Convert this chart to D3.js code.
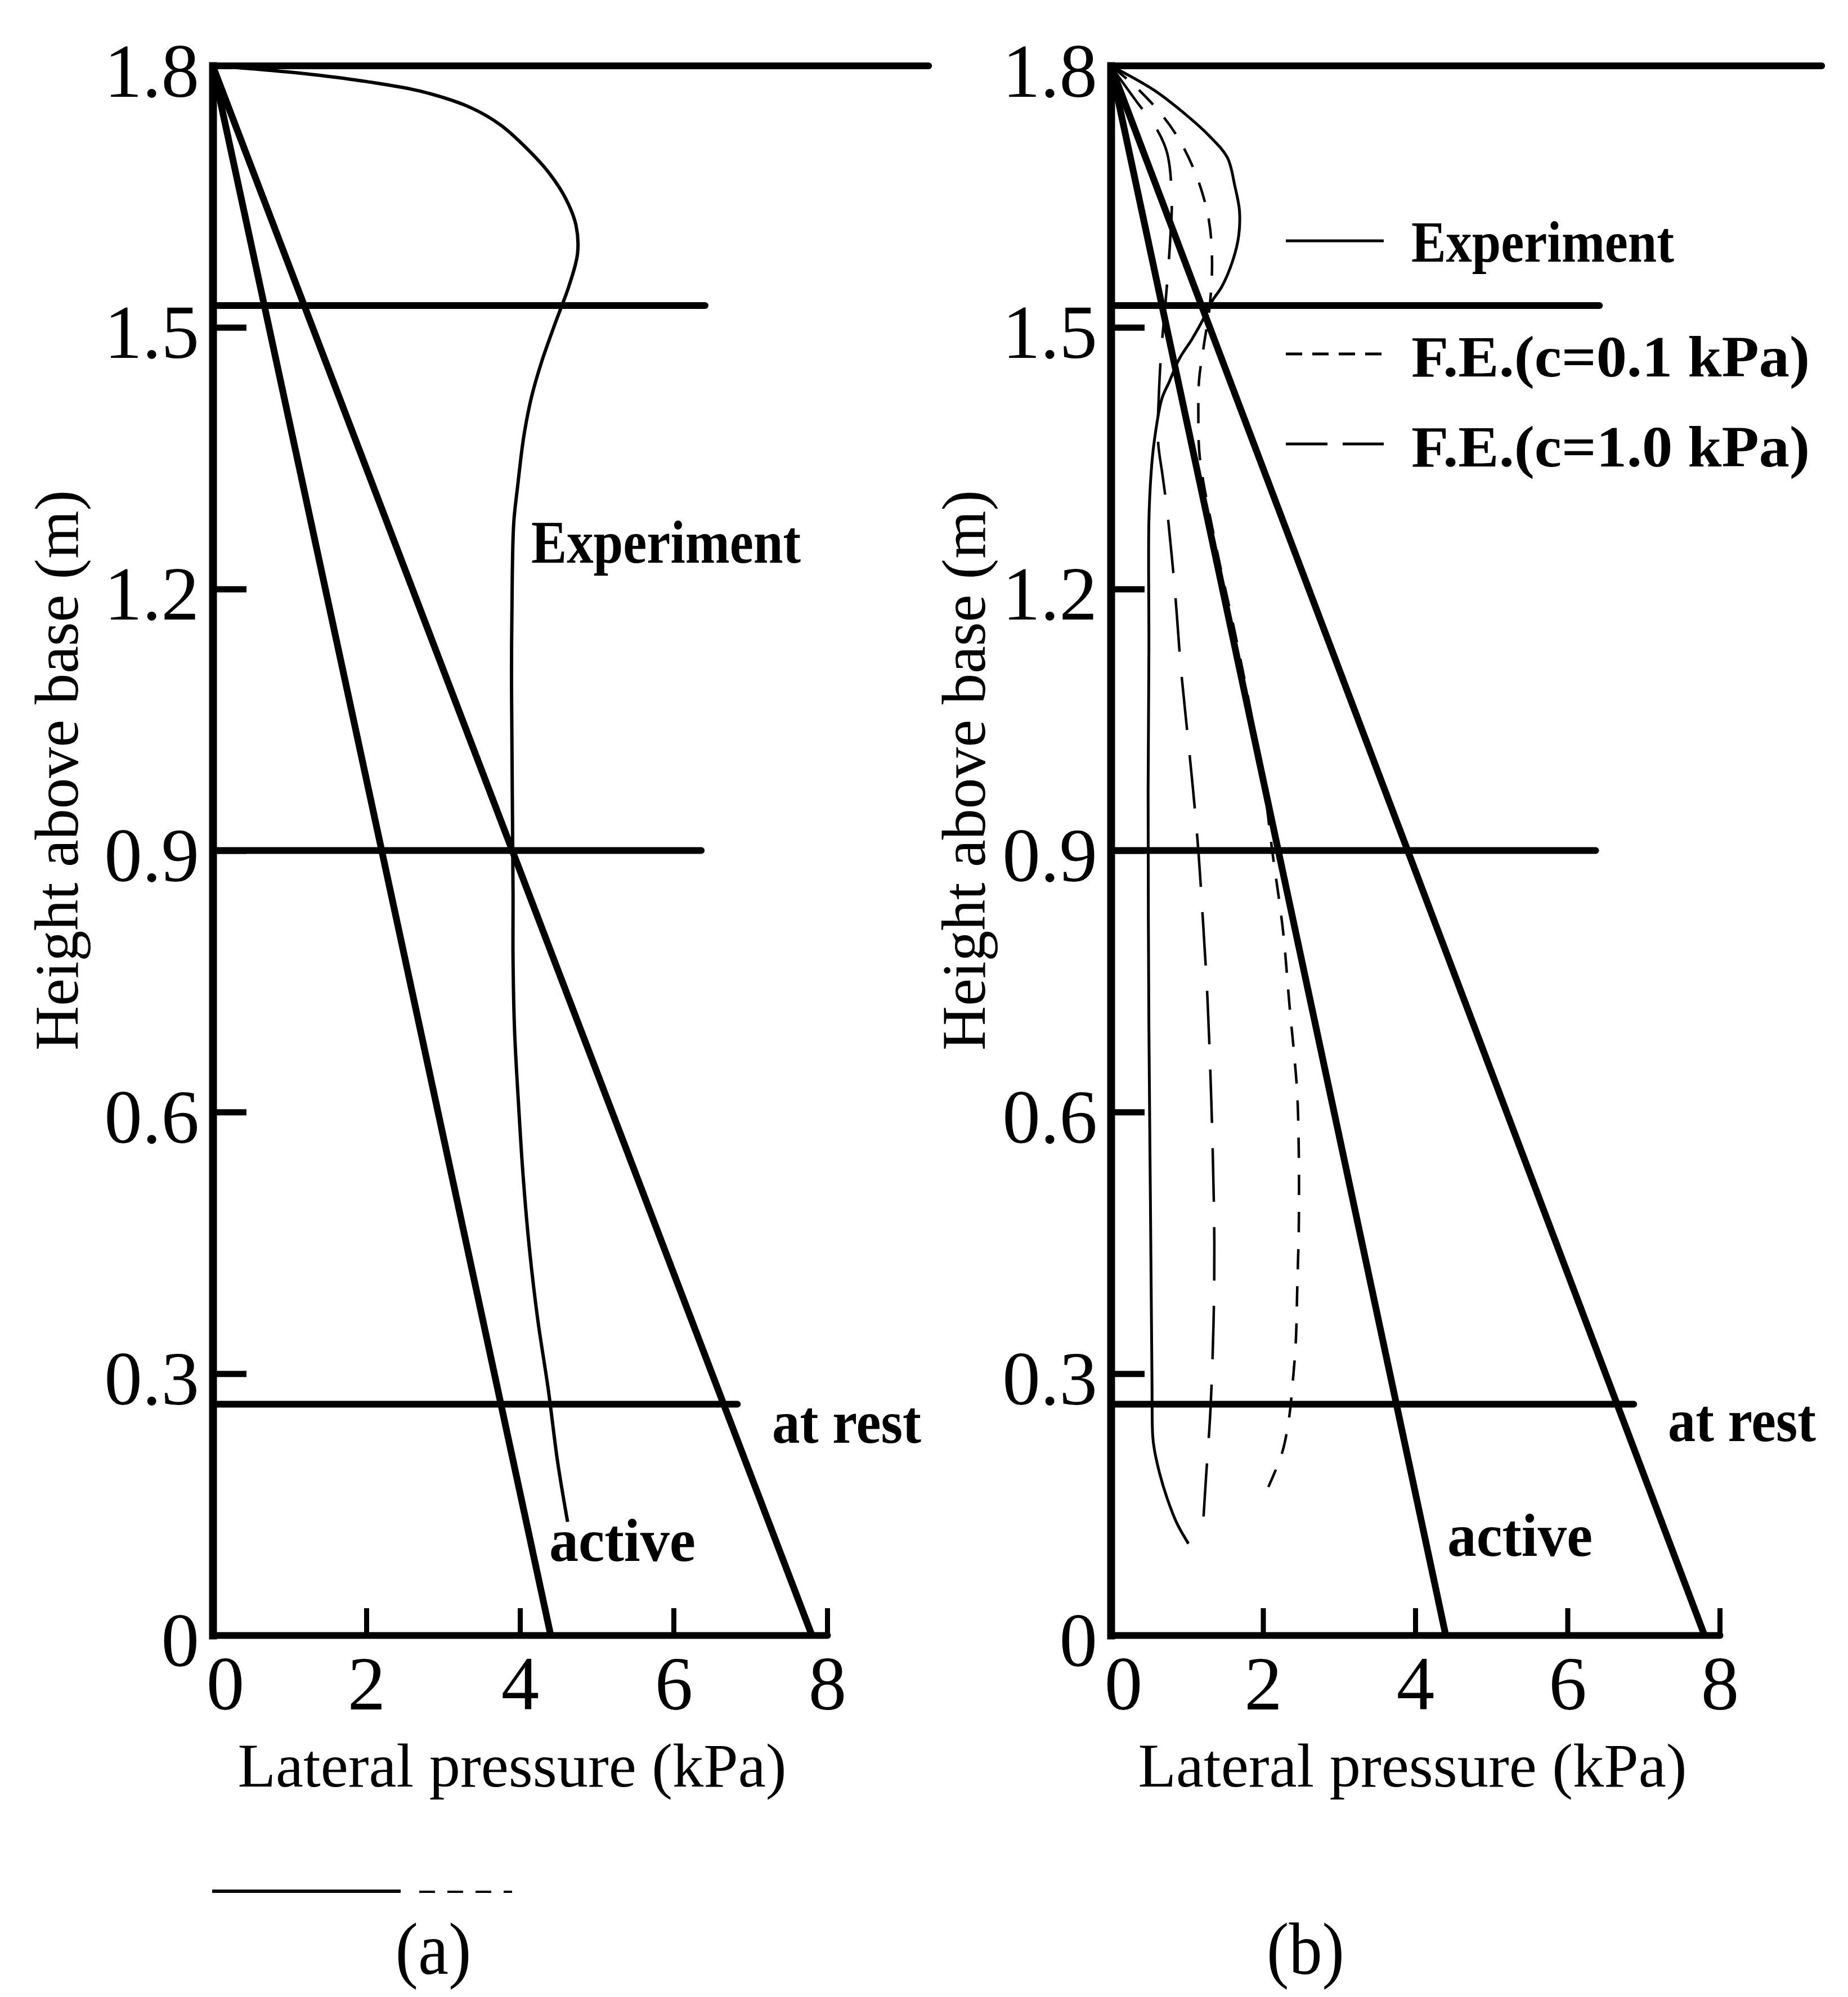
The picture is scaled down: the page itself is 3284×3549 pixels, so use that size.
<!DOCTYPE html>
<html><head><meta charset="utf-8">
<script src="https://cdn.jsdelivr.net/npm/d3@7"></script>
<style>html,body{margin:0;padding:0;background:#fff;} svg{display:block;}</style>
</head><body>
<svg id="chart" width="3284" height="3549"></svg>
<script>
// ---------------- data ----------------
const xTickValues = [0, 2, 4, 6, 8];
const yTickValues = [0, 0.3, 0.6, 0.9, 1.2, 1.5, 1.8];
const yTickLabels = ["0", "0.3", "0.6", "0.9", "1.2", "1.5", "1.8"];

// theoretical distributions [pressure kPa, height m]
const activeLine = [[0, 1.8], [4.4, 0]];
const atRestLine = [[0, 1.8], [7.8, 0]];

// horizontal levels [height m, end pressure kPa]
const levelsA = [[1.8, 9.32], [1.525, 6.41], [0.9, 6.36], [0.265, 6.83]];
const levelsB = [[1.8, 9.34], [1.525, 6.42], [0.9, 6.37], [0.265, 6.87]];

// panel (a) experiment
const experimentA = [[0,1.8],[0.6,1.796],[1.3,1.79],[2.0,1.782],[2.70,1.771],[3.36,1.752],[3.75,1.732],
  [4.08,1.706],[4.38,1.677],[4.60,1.647],[4.73,1.617],[4.75,1.585],[4.64,1.548],[4.46,1.505],[4.28,1.46],
  [4.15,1.42],[4.05,1.375],[3.97,1.318],[3.92,1.277],[3.90,1.215],[3.89,1.09],[3.90,0.968],[3.91,0.85],
  [3.91,0.774],[3.93,0.693],[3.98,0.611],[4.04,0.528],[4.12,0.446],[4.23,0.363],[4.37,0.281],[4.49,0.199],
  [4.62,0.13]];

// panel (b) experiment and finite element results
const experimentB = [[0,1.8],[0.57,1.772],[1.00,1.743],[1.29,1.72],[1.53,1.695],[1.63,1.662],[1.69,1.634],
  [1.68,1.605],[1.60,1.576],[1.46,1.547],[1.33,1.53],[1.23,1.512],[1.07,1.487],[0.90,1.464],[0.77,1.438],
  [0.67,1.418],[0.57,1.369],[0.53,1.334],[0.50,1.277],[0.50,1.133],[0.49,0.969],[0.50,0.7],[0.52,0.5],
  [0.54,0.3],[0.55,0.229],[0.57,0.214],[0.64,0.186],[0.74,0.157],[0.87,0.128],[1.02,0.105]];
const feC01 = [[0,1.8],[0.3,1.778],[0.66,1.745],[0.92,1.712],[1.15,1.668],[1.29,1.622],[1.33,1.575],
  [1.30,1.525],[1.22,1.478],[1.16,1.44],[1.15,1.40],[1.17,1.35],[1.38,1.25],[1.63,1.15],[1.86,1.05],
  [2.02,0.97],[2.12,0.90],[2.26,0.81],[2.35,0.72],[2.41,0.665],[2.45,0.62],[2.47,0.55],[2.47,0.47],
  [2.45,0.40],[2.43,0.336],[2.39,0.29],[2.34,0.248],[2.25,0.209],[2.07,0.17]];
const feC10 = [[0,1.8],[0.33,1.76],[0.6,1.728],[0.74,1.70],[0.8,1.65],[0.78,1.60],[0.72,1.53],[0.66,1.47],
  [0.63,1.42],[0.62,1.37],[0.68,1.33],[0.74,1.29],[0.84,1.2],[0.92,1.11],[1.0,1.04],[1.08,0.97],[1.15,0.90],
  [1.21,0.82],[1.27,0.73],[1.31,0.64],[1.34,0.55],[1.36,0.45],[1.35,0.36],[1.31,0.26],[1.25,0.18],[1.20,0.11]];

const legendLabels = ["Experiment", "F.E.(c=0.1 kPa)", "F.E.(c=1.0 kPa)"];
const xTitle = "Lateral pressure (kPa)";
const yTitle = "Height above base (m)";
const panelCaptions = ["(a)", "(b)"];

// ---------------- drawing ----------------
const FONT = "'Liberation Serif', 'Times New Roman', Times, serif";
const svg = d3.select("#chart");
svg.append("rect").attr("width", 3284).attr("height", 3549).attr("fill", "#fff");

function txt(g, s, x, y, size, len, opts = {}) {
  const t = g.append("text").attr("x", x).attr("y", y).text(s)
    .attr("font-family", FONT).attr("font-size", size).attr("fill", "#000")
    .attr("font-weight", opts.bold ? "bold" : "normal")
    .attr("text-anchor", opts.anchor || "start");
  if (len) t.attr("textLength", len).attr("lengthAdjust", "spacingAndGlyphs");
  if (opts.transform) t.attr("transform", opts.transform);
  return t;
}

function drawPanel(cfg) {
  const g = svg.append("g");
  const x = d3.scaleLinear().domain([0, 8]).range(cfg.xr);
  const y = d3.scaleLinear().domain([0, 1.8]).range([2906, 117]);
  const line = d3.line().x(d => x(d[0])).y(d => y(d[1]));
  const curve = d3.line().x(d => x(d[0])).y(d => y(d[1])).curve(d3.curveCatmullRom.alpha(0.5));

  // horizontal levels
  g.selectAll(".lvl").data(cfg.levels).join("line")
    .attr("x1", x(0)).attr("x2", d => x(d[1]))
    .attr("y1", d => y(d[0])).attr("y2", d => y(d[0]))
    .attr("stroke", "#000").attr("stroke-width", 12).attr("stroke-linecap", "round");

  // theory lines
  [activeLine, atRestLine].forEach(L => {
    g.append("path").attr("d", line(L)).attr("fill", "none")
      .attr("stroke", "#000").attr("stroke-width", 12).attr("stroke-linecap", "round");
  });

  // curves
  cfg.curves.forEach(c => {
    g.append("path").attr("d", curve(c.data)).attr("fill", "none")
      .attr("stroke", "#000").attr("stroke-width", c.w)
      .attr("stroke-dasharray", c.dash || null).attr("stroke-linecap", "butt");
  });

  // y axis
  const ya = g.append("g").attr("transform", `translate(${x(0)},0)`)
    .call(d3.axisLeft(y).tickValues(yTickValues).tickFormat((d, i) => yTickLabels[i])
      .tickSizeInner(-60).tickSizeOuter(0).tickPadding(24));
  ya.select(".domain").attr("stroke", "#000").attr("stroke-width", 14).attr("stroke-linecap", "square");
  ya.selectAll(".tick line").attr("stroke", "#000").attr("stroke-width", 11);
  ya.selectAll(".tick text").attr("font-family", FONT).attr("font-size", 135).attr("fill", "#000").attr("dy", "0.4em");

  // x axis
  const xa = g.append("g").attr("transform", `translate(0,${y(0)})`)
    .call(d3.axisBottom(x).tickValues(xTickValues).tickFormat(d3.format("d"))
      .tickSizeInner(-48).tickSizeOuter(0).tickPadding(36));
  xa.select(".domain").attr("stroke", "#000").attr("stroke-width", 12).attr("stroke-linecap", "round");
  xa.selectAll(".tick line").attr("stroke", "#000").attr("stroke-width", 9);
  xa.selectAll(".tick text").attr("font-family", FONT).attr("font-size", 135).attr("fill", "#000")
    .attr("dx", d => d === 0 ? 22 : 0);

  // axis titles
  txt(g, xTitle, cfg.xTitleX, 3175, 110, 975, { anchor: "middle" });
  txt(g, yTitle, 0, 0, 110, 996, { anchor: "middle", transform: `translate(${cfg.yTitleX},1369) rotate(-90)` });

  // labels
  cfg.labels.forEach(l => txt(g, l.s, l.x, l.y, l.size, l.len, { bold: true }));
  return { g, x, y };
}

// Panel (a)
drawPanel({
  xr: [378, 1470],
  levels: levelsA,
  curves: [{ data: experimentA, w: 6 }],
  xTitleX: 910, yTitleX: 138,
  labels: [
    { s: "Experiment", x: 944, y: 1000, size: 108, len: 479 },
    { s: "at rest", x: 1372, y: 2564, size: 108, len: 265 },
    { s: "active", x: 976, y: 2774, size: 108, len: 260 }
  ]
});

// Panel (b)
drawPanel({
  xr: [1974, 3056],
  levels: levelsB,
  curves: [
    { data: experimentB, w: 5 },
    { data: feC01, w: 4.5, dash: "36,30" },
    { data: feC10, w: 4.5, dash: "95,45" }
  ],
  xTitleX: 2510, yTitleX: 1750,
  labels: [
    { s: "at rest", x: 2964, y: 2561, size: 108, len: 263 },
    { s: "active", x: 2572, y: 2765, size: 108, len: 258 }
  ]
});

// legend in panel (b)
const leg = svg.append("g");
const legendStyles = [null, "29,18", "74,27"];
const legendY = [428, 629, 789];
const legendTextY = [465, 669, 829];
const legendLen = [467, 708, 708];
legendLabels.forEach((s, i) => {
  leg.append("line").attr("x1", 2285).attr("x2", 2459).attr("y1", legendY[i]).attr("y2", legendY[i])
    .attr("stroke", "#000").attr("stroke-width", 5).attr("stroke-dasharray", legendStyles[i]);
  txt(leg, s, 2508, legendTextY[i], 104, legendLen[i], { bold: true });
});

// panel captions
txt(svg, panelCaptions[0], 770, 3508, 132, 135, { anchor: "middle" });
txt(svg, panelCaptions[1], 2320, 3508, 132, 138, { anchor: "middle" });

// stray rule near bottom left (as in the scan)
svg.append("line").attr("x1", 377).attr("x2", 712).attr("y1", 3361).attr("y2", 3361)
  .attr("stroke", "#000").attr("stroke-width", 6);
svg.append("line").attr("x1", 745).attr("x2", 910).attr("y1", 3362).attr("y2", 3362)
  .attr("stroke", "#000").attr("stroke-width", 4).attr("stroke-dasharray", "28,22");
</script>
</body></html>
